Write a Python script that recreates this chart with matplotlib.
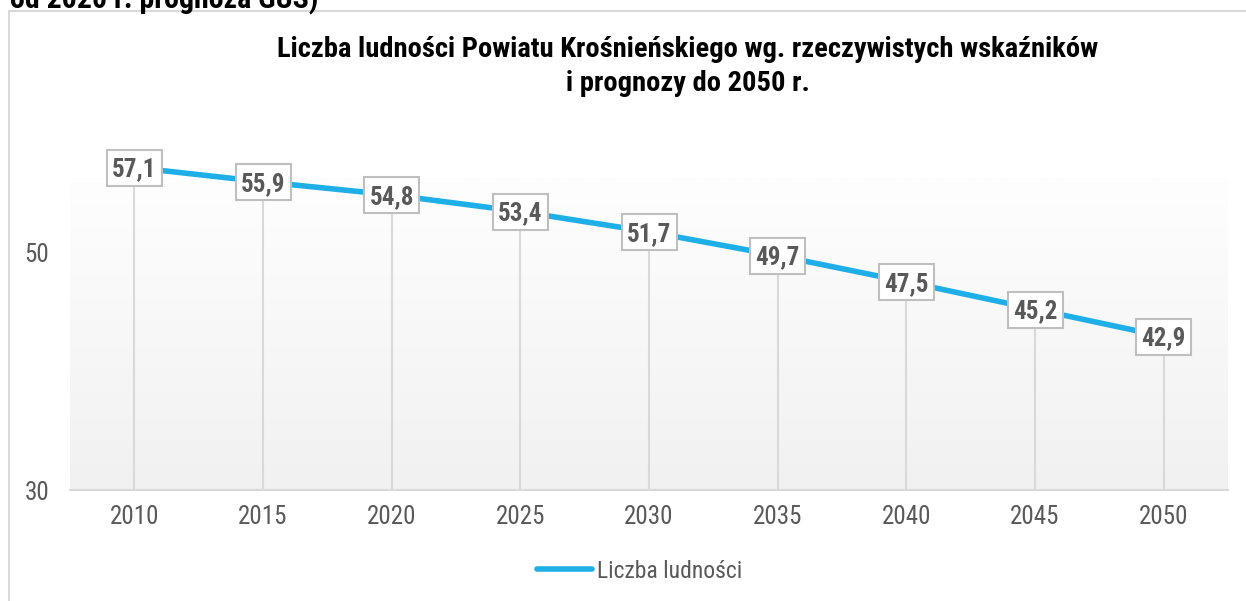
import matplotlib
matplotlib.use("Agg")
import matplotlib.pyplot as plt
import matplotlib.transforms as mtransforms
import numpy as np
from matplotlib.patches import Rectangle
from matplotlib.colors import LinearSegmentedColormap
from matplotlib import font_manager

years = ["2010", "2015", "2020", "2025", "2030", "2035", "2040", "2045", "2050"]
population = [57.1, 55.9, 54.8, 53.4, 51.7, 49.7, 47.5, 45.2, 42.9]
labels = ["57,1", "55,9", "54,8", "53,4", "51,7", "49,7", "47,5", "45,2", "42,9"]
yticks = [30, 50]
title_lines = ["Liczba ludności Powiatu Krośnieńskiego wg. rzeczywistych wskaźników",
               "i prognozy do 2050 r."]
top_text = "od 2020 r. prognoza GUS)"
series_name = "Liczba ludności"

names = {f.name for f in font_manager.fontManager.ttflist}
prefs = ["Liberation Sans Narrow", "Arial Narrow", "Roboto Condensed", "Archivo Narrow",
         "PT Sans Narrow", "Barlow Semi Condensed", "Liberation Sans"]
font = next((p for p in prefs if p in names), "DejaVu Sans")
plt.rcParams['font.family'] = [font, 'DejaVu Sans']
condensed = font != "Liberation Sans" and font != "DejaVu Sans"
tsize = 20.5 if condensed else 17.5
topsize = 21.5 if condensed else 18.5

W, H = 1246, 601
fig = plt.figure(figsize=(W / 100, H / 100), dpi=100)
fig.patch.set_facecolor("white")

def fy(py):
    return 1 - py / H

# outer frame
fig.add_artist(Rectangle((8.5 / W, -0.05), 1.1, fy(11) + 0.05, transform=fig.transFigure,
                         fill=False, edgecolor="#d9d9d9", linewidth=1.5))

fig.text(10 / W, fy(8), top_text, fontsize=topsize, fontweight="bold", color="black",
         ha="left", va="baseline")

ax = fig.add_axes([70 / W, fy(490), (1228 - 70) / W, 476 / H])
ax.set_facecolor("none")
x = np.arange(len(years))
ax.set_xlim(-0.5, len(years) - 0.5)
ax.set_ylim(30, 70)

# gradient plot-area background (from y pixel 177 down to axis)
grad = np.linspace(0, 1, 256).reshape(-1, 1)
cmap = LinearSegmentedColormap.from_list("g", ["#f1f1f1", "#fefefe"])
ax.imshow(grad, extent=[0, 1, 0, (490 - 177) / 476], transform=ax.transAxes, aspect="auto",
          cmap=cmap, origin="lower", zorder=0)

ax.vlines(x, 30, population, colors="#d9d9d9", linewidth=1.5, zorder=1)
line, = ax.plot(x, population, color="#1eaee8", linewidth=4, solid_capstyle="round",
                zorder=2, label=series_name)

for xi, v, lab in zip(x, population, labels):
    trans = fig.dpi_scale_trans + mtransforms.ScaledTranslation(xi, v, ax.transData)
    ax.add_patch(Rectangle((-0.275, -0.185), 0.55, 0.36, transform=trans, facecolor="white",
                           edgecolor="#bfbfbf", linewidth=1.5, zorder=3, clip_on=False))
    ax.annotate(lab, (xi, v), xytext=(0, -9), textcoords="offset pixels",
                ha="center", va="baseline", fontsize=18, fontweight="bold",
                color="#595959", zorder=4, annotation_clip=False)

for s in ["top", "right", "left"]:
    ax.spines[s].set_visible(False)
ax.spines["bottom"].set_color("#d9d9d9")
ax.spines["bottom"].set_linewidth(1.5)
ax.set_xticks(x)
ax.set_xticklabels(years)
ax.set_yticks(yticks)
ax.tick_params(axis="both", length=0, labelsize=18, labelcolor="#595959")
ax.tick_params(axis="x", pad=11)
ax.tick_params(axis="y", pad=15)

cx = 688 / W
fig.text(cx, fy(57), title_lines[0], ha="center", va="baseline", fontsize=tsize,
         fontweight="bold", color="black")
fig.text(cx, fy(91), title_lines[1], ha="center", va="baseline", fontsize=tsize,
         fontweight="bold", color="black")

leg = fig.legend(handles=[line], loc="center left", bbox_to_anchor=(537 / W, fy(571)),
                 frameon=False, fontsize=17, handlelength=2.33, handletextpad=0.2,
                 borderaxespad=0, borderpad=0)
for t in leg.get_texts():
    t.set_color("#595959")

fig.savefig("out.png", dpi=100, facecolor="white")
